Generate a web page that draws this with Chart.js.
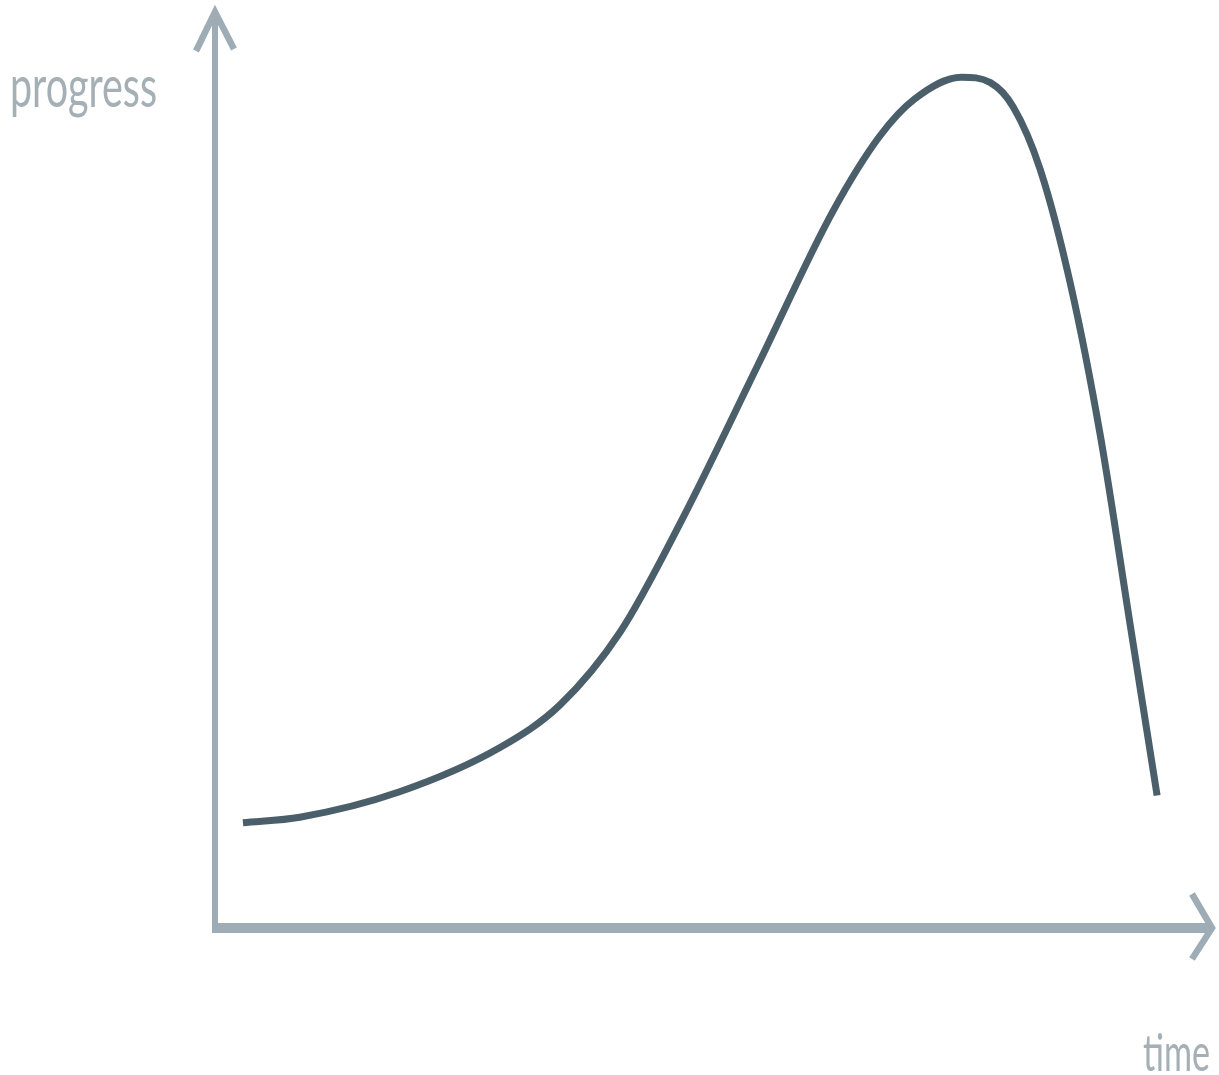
<!DOCTYPE html>
<html>
<head>
<meta charset="utf-8">
<script src="https://cdn.jsdelivr.net/npm/chart.js@4/dist/chart.umd.min.js"></script>
<style>
  html, body { margin: 0; padding: 0; background: #ffffff; overflow: hidden; }
  #wrap { position: relative; width: 1219px; height: 1075px; }
  canvas { position: absolute; left: 0; top: 0; }
  .lbl { position: absolute; font-family: Lato, "Open Sans", sans-serif; font-weight: 400;
         color: #a5afb6; white-space: nowrap; transform-origin: 0 0; line-height: 1; }
</style>
</head>
<body>
<div id="wrap">
  <canvas id="c" width="1219" height="1075"></canvas>
  <div class="lbl" id="ylab">progress</div>
  <div class="lbl" id="xlab">time</div>
</div>
<script>
// Data (time on x, progress on y, arbitrary 0–100 units)
const timeValues = [2.9, 8.6, 18.6, 28.7, 34.7, 40.7, 47.0, 54.5, 62.0, 66.7, 70.2, 74.9, 77.8, 80.1, 82.8, 85.8, 88.8, 91.8, 94.5];
const progressValues = [11.6, 12.2, 15.0, 19.9, 24.6, 32.6, 45.2, 62.0, 78.9, 87.2, 91.3, 93.7, 93.1, 90.4, 83.5, 71.0, 54.3, 33.4, 14.6];
const axisTitles = ["time", "progress"];

const points = timeValues.map((t, i) => ({ x: t, y: progressValues[i] }));

const axisColor = "#9dacb5";
const curveColor = "#4b5f6b";

const arrowAxes = {
  id: "arrowAxes",
  beforeDatasetsDraw(chart) {
    const { ctx, chartArea: a } = chart;
    ctx.save();
    ctx.strokeStyle = axisColor;
    ctx.lineCap = "butt";
    ctx.lineJoin = "miter";
    // vertical axis
    ctx.lineWidth = 6;
    ctx.beginPath();
    ctx.moveTo(a.left + 1, a.bottom + 5);
    ctx.lineTo(a.left + 1, a.top - 8);
    ctx.stroke();
    // vertical arrowhead
    ctx.lineWidth = 6.5;
    ctx.beginPath();
    ctx.moveTo(a.left - 18, a.top + 31);
    ctx.lineTo(a.left + 1, a.top - 8);
    ctx.lineTo(a.left + 20, a.top + 29);
    ctx.stroke();
    // horizontal axis
    ctx.lineWidth = 10;
    ctx.beginPath();
    ctx.moveTo(a.left - 2, a.bottom);
    ctx.lineTo(a.right - 3, a.bottom);
    ctx.stroke();
    // horizontal arrowhead
    ctx.lineWidth = 6.5;
    ctx.beginPath();
    ctx.moveTo(a.right - 20, a.bottom - 34);
    ctx.lineTo(a.right, a.bottom);
    ctx.lineTo(a.right - 20, a.bottom + 31);
    ctx.stroke();
    ctx.restore();
  }
};

const chart = new Chart(document.getElementById("c"), {
  type: "line",
  data: {
    datasets: [{
      data: points,
      borderColor: curveColor,
      borderWidth: 7,
      pointRadius: 0,
      cubicInterpolationMode: "monotone",
      fill: false,
      clip: false,
      borderCapStyle: "butt",
      borderJoinStyle: "round"
    }]
  },
  options: {
    responsive: false,
    animation: false,
    events: [],
    layout: { padding: { left: 214, right: 7, top: 20, bottom: 147 } },
    plugins: { legend: { display: false }, tooltip: { enabled: false } },
    scales: {
      x: { type: "linear", min: 0, max: 100, display: false },
      y: { type: "linear", min: 0, max: 100, display: false }
    }
  },
  plugins: [arrowAxes]
});

// Place the axis titles as real text, compressed to the reference width
function place(id, text, left, top, size, targetW) {
  const el = document.getElementById(id);
  el.textContent = text;
  el.style.fontSize = size + "px";
  el.style.left = left + "px";
  el.style.top = top + "px";
  const w = el.getBoundingClientRect().width;
  el.style.transform = "scaleX(" + (targetW / w) + ")";
}
place("xlab", axisTitles[0], 1143, 1025, 52, 67);
place("ylab", axisTitles[1], 10, 56, 58, 147);
</script>
</body>
</html>
